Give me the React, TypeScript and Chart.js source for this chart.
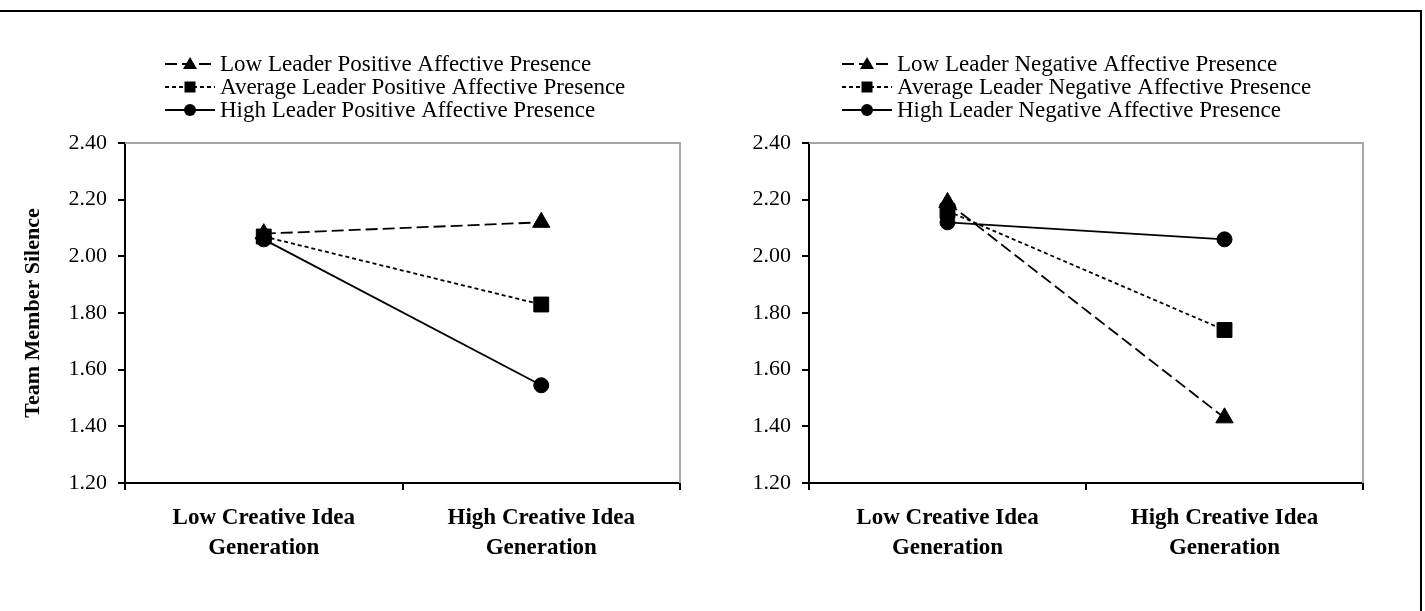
import React, { useEffect, useRef } from "react";
import { Chart, registerables } from "chart.js";

Chart.register(...registerables);

const categories = [
  ["Low Creative Idea", "Generation"],
  ["High Creative Idea", "Generation"],
];
const yMin = 1.2;
const yMax = 2.4;
const yStep = 0.2;
const yTitle = "Team Member Silence";

const positiveLabels = [
  "Low Leader Positive Affective Presence",
  "Average Leader Positive Affective Presence",
  "High Leader Positive Affective Presence",
];
const lowPositive = [2.08, 2.12];
const avgPositive = [2.07, 1.83];
const highPositive = [2.06, 1.545];

const negativeLabels = [
  "Low Leader Negative Affective Presence",
  "Average Leader Negative Affective Presence",
  "High Leader Negative Affective Presence",
];
const lowNegative = [2.19, 1.43];
const avgNegative = [2.16, 1.74];
const highNegative = [2.12, 2.06];

const FONT = "'Liberation Serif', 'Times New Roman', serif";

const styles = [
  { dash: [12, 5], pointStyle: "triangle", radius: 10 },
  { dash: [4, 3], pointStyle: "rect", radius: 10.5 },
  { dash: [], pointStyle: "circle", radius: 7.5 },
];

function makeDatasets(labels: string[], series: number[][]) {
  return series.map((data, i) => ({
    label: labels[i],
    data,
    borderColor: "#000",
    backgroundColor: "#000",
    borderWidth: 1.8,
    borderDash: styles[i].dash,
    pointStyle: styles[i].pointStyle,
    pointRadius: styles[i].radius,
    pointBackgroundColor: "#000",
    pointBorderColor: "#000",
    pointBorderWidth: 1,
    tension: 0,
  }));
}

const framePlugin = {
  id: "frameLines",
  beforeDatasetsDraw(chart: any) {
    const { ctx, chartArea } = chart;
    ctx.save();
    ctx.strokeStyle = "#a6a6a6";
    ctx.lineWidth = 2;
    ctx.beginPath();
    ctx.moveTo(chartArea.left, chartArea.top);
    ctx.lineTo(chartArea.right, chartArea.top);
    ctx.lineTo(chartArea.right, chartArea.bottom);
    ctx.stroke();
    ctx.restore();
  },
};

const customLegend = {
  id: "customLegend",
  afterDraw(chart: any, _args: any, opts: any) {
    const { ctx } = chart;
    const x0 = opts.x;
    const y0 = opts.y;
    const row = 23;
    const symW = 50;
    ctx.save();
    ctx.font = `23px ${FONT}`;
    ctx.textBaseline = "middle";
    ctx.fillStyle = "#000";
    chart.data.datasets.forEach((ds: any, i: number) => {
      const y = y0 + i * row;
      ctx.strokeStyle = "#000";
      ctx.lineWidth = 1.8;
      ctx.setLineDash(ds.borderDash || []);
      ctx.beginPath();
      ctx.moveTo(x0, y);
      ctx.lineTo(x0 + symW, y);
      ctx.stroke();
      ctx.setLineDash([]);
      const cx = x0 + symW / 2;
      ctx.beginPath();
      if (ds.pointStyle === "triangle") {
        ctx.moveTo(cx, y - 7);
        ctx.lineTo(cx + 7, y + 5);
        ctx.lineTo(cx - 7, y + 5);
        ctx.closePath();
      } else if (ds.pointStyle === "rect") {
        ctx.rect(cx - 5.5, y - 5.5, 11, 11);
      } else {
        ctx.arc(cx, y, 6, 0, Math.PI * 2);
      }
      ctx.fill();
      ctx.fillText(ds.label, x0 + symW + 5, y + 1);
    });
    ctx.restore();
  },
};

function makeConfig(
  labels: string[],
  series: number[][],
  showTitle: boolean,
  pad: { left: number; right: number },
  yWidth: number,
  legendX: number
): any {
  return {
    type: "line",
    data: { labels: categories, datasets: makeDatasets(labels, series) },
    options: {
      animation: false,
      responsive: false,
      maintainAspectRatio: false,
      layout: { padding: { left: pad.left, right: pad.right, top: 143, bottom: 28 } },
      plugins: {
        legend: { display: false },
        tooltip: { enabled: false },
        customLegend: { x: legendX, y: 64 },
      },
      scales: {
        x: {
          type: "category",
          offset: true,
          grid: {
            offset: true,
            drawOnChartArea: false,
            drawTicks: true,
            tickLength: 7,
            color: "#000",
            lineWidth: 2,
          },
          border: { display: true, color: "#000", width: 2 },
          ticks: {
            color: "#000",
            padding: 13,
            font: { family: FONT, size: 23, weight: "bold", lineHeight: 1.3 },
            maxRotation: 0,
            autoSkip: false,
          },
          afterFit(scale: any) {
            scale.height = 100;
          },
        },
        y: {
          min: yMin,
          max: yMax,
          grid: {
            drawOnChartArea: false,
            drawTicks: true,
            tickLength: 7,
            color: "#000",
            lineWidth: 2,
          },
          border: { display: true, color: "#000", width: 2 },
          ticks: {
            stepSize: yStep,
            color: "#000",
            padding: 11,
            font: { family: FONT, size: 22 },
            callback: (v: any) => Number(v).toFixed(2),
          },
          title: {
            display: showTitle,
            text: yTitle,
            color: "#000",
            font: { family: FONT, size: 22, weight: "bold" },
            padding: { top: 3, bottom: 4 },
          },
          afterFit(scale: any) {
            scale.width = yWidth;
          },
        },
      },
    },
    plugins: [framePlugin, customLegend],
  };
}

function ChartCanvas({ config, width, height, left }: any) {
  const ref = useRef<HTMLCanvasElement | null>(null);
  useEffect(() => {
    if (!ref.current) return;
    const chart = new Chart(ref.current, config);
    return () => chart.destroy();
  }, [config]);
  return (
    <canvas
      ref={ref}
      width={width}
      height={height}
      style={{ position: "absolute", left, top: 0, width, height }}
    />
  );
}

const leftConfig = makeConfig(
  positiveLabels,
  [lowPositive, avgPositive, highPositive],
  true,
  { left: 17, right: 20 },
  108,
  165
);
const rightConfig = makeConfig(
  negativeLabels,
  [lowNegative, avgNegative, highNegative],
  false,
  { left: 10, right: 62 },
  99,
  142
);

export default function App() {
  return (
    <div
      style={{
        position: "fixed",
        left: 0,
        top: 0,
        width: 1425,
        height: 611,
        background: "#fff",
        overflow: "hidden",
      }}
    >
      <ChartCanvas config={leftConfig} width={700} height={611} left={0} />
      <ChartCanvas config={rightConfig} width={725} height={611} left={700} />
      <div
        style={{
          position: "absolute",
          left: 0,
          top: 10,
          width: 1422,
          height: 640,
          boxSizing: "border-box",
          borderTop: "2px solid #000",
          borderRight: "2px solid #000",
          pointerEvents: "none",
        }}
      />
    </div>
  );
}
